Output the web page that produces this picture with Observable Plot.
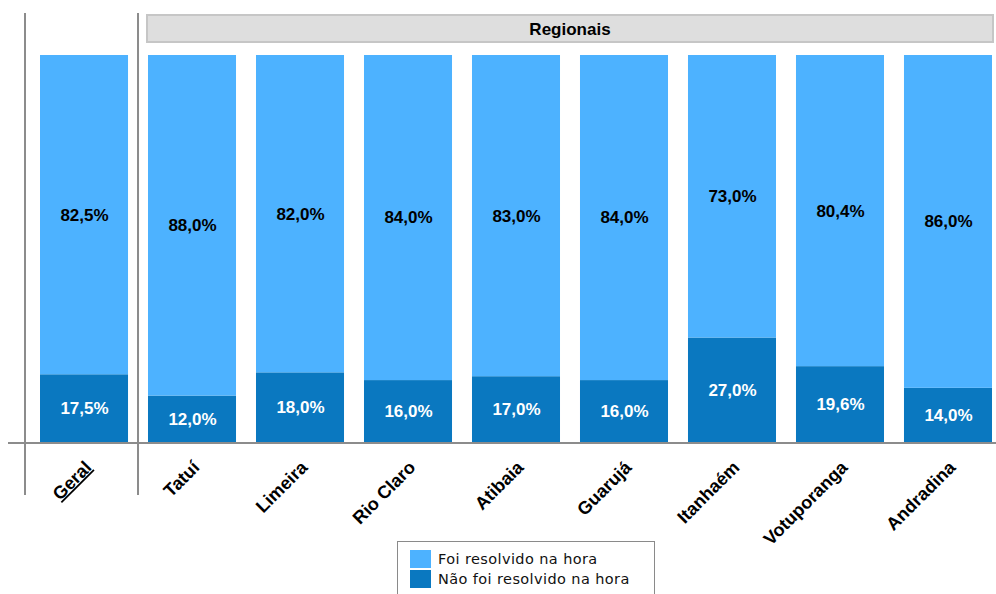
<!DOCTYPE html>
<html>
<head>
<meta charset="utf-8">
<script src="https://cdn.jsdelivr.net/npm/d3@7"></script>
<script src="https://cdn.jsdelivr.net/npm/@observablehq/plot@0.6"></script>
<style>
  html, body { margin: 0; padding: 0; background: #fff; overflow: hidden; }
  #wrap { position: relative; width: 996px; height: 594px; }
  #legend { position: absolute; left: 397px; top: 541px; width: 256px; height: 60px;
    border: 1.5px solid #8a8a8a; background: #fff; font-family: "DejaVu Sans", Verdana, sans-serif;
    font-size: 14.5px; letter-spacing: 0.4px; color: #111; }
  .item { position: absolute; left: 12px; height: 18px; display: flex; align-items: center; }
  .sw { width: 21px; height: 18px; margin-right: 7px; }
</style>
</head>
<body>
<div id="wrap">
  <div id="chart"></div>
  <div id="legend">
    <div class="item" style="top:8px"><div class="sw" style="background:#4db2ff"></div>Foi resolvido na hora</div>
    <div class="item" style="top:28px"><div class="sw" style="background:#0a78c0"></div>Não foi resolvido na hora</div>
  </div>
</div>
<script>
const categories = ["Geral", "Tatuí", "Limeira", "Rio Claro", "Atibaia", "Guarujá", "Itanhaém", "Votuporanga", "Andradina"];
const resolvido = [82.5, 88.0, 82.0, 84.0, 83.0, 84.0, 73.0, 80.4, 86.0];
const naoResolvido = [17.5, 12.0, 18.0, 16.0, 17.0, 16.0, 27.0, 19.6, 14.0];
const seriesNames = ["Foi resolvido na hora", "Não foi resolvido na hora"];
const groupLabel = "Regionais";

const colors = {"Foi resolvido na hora": "#4db2ff", "Não foi resolvido na hora": "#0a78c0"};
const fmt = v => v.toFixed(1).replace(".", ",") + "%";

const rows = [];
categories.forEach((c, i) => {
  const d = naoResolvido[i], r = resolvido[i];
  rows.push({cat: c, series: seriesNames[1], value: d, y1: 0, y2: d});
  rows.push({cat: c, series: seriesNames[0], value: r, y1: d, y2: d + r});
});
rows.forEach(r => r.mid = (r.y1 + r.y2) / 2);

const plot = Plot.plot({
  width: 996,
  height: 540,
  marginTop: 55,
  marginBottom: 98,
  marginLeft: 40,
  marginRight: 4,
  style: {fontFamily: "'Liberation Sans', Arial, sans-serif", background: "#fff", overflow: "visible"},
  x: {type: "band", domain: categories, paddingInner: 0.185, paddingOuter: 0, round: false, label: null},
  y: {domain: [0, 100], axis: null},
  color: {domain: seriesNames, range: [colors[seriesNames[0]], colors[seriesNames[1]]]},
  marks: [
    Plot.barY(rows, {x: "cat", y1: "y1", y2: "y2", fill: "series"}),
    Plot.text(rows, {x: "cat", y: "mid", text: d => fmt(d.value),
      fill: d => d.series === seriesNames[0] ? "#000" : "#fff",
      fontSize: 17, fontWeight: "bold"}),
    Plot.axisX({tickRotate: -45, tickSize: 0, tickPadding: 22, dx: 4, fontSize: 18, fontWeight: "bold", fill: "#000"})
  ]
});
document.getElementById("chart").appendChild(plot);

// decorations derived from scales
const svg = d3.select(plot);
const xs = plot.scale("x");
const bw = xs.bandwidth;
const yTop = 13, yBot = 495, base = plot.scale("y").apply(0);
const xStart = xs.apply(categories[0]);
const xSep = (xs.apply(categories[0]) + bw + xs.apply(categories[1])) / 2;
const deco = svg.append("g");
deco.append("line").attr("x1", 8).attr("x2", 996).attr("y1", base + 1).attr("y2", base + 1)
  .attr("stroke", "#8c8c8c").attr("stroke-width", 2);
[xStart - 15, xSep].forEach(x => {
  deco.append("line").attr("x1", x).attr("x2", x).attr("y1", yTop).attr("y2", yBot)
    .attr("stroke", "#8c8c8c").attr("stroke-width", 2);
});
const bx1 = xs.apply(categories[1]) - 1;
const bx2 = xs.apply(categories[categories.length - 1]) + bw + 1;
deco.append("rect").attr("x", bx1).attr("y", 15).attr("width", bx2 - bx1).attr("height", 27)
  .attr("fill", "#dedede").attr("stroke", "#c6c6c6").attr("stroke-width", 2);
deco.append("text").attr("x", (bx1 + bx2) / 2).attr("y", 29).attr("dy", "0.35em")
  .attr("text-anchor", "middle").attr("font-weight", "bold").attr("font-size", 17)
  .attr("fill", "#000").text(groupLabel);

// underline "Geral"
svg.selectAll("[aria-label='x-axis tick label'] text").each(function() {
  if (this.textContent === categories[0]) d3.select(this).attr("text-decoration", "underline");
});
</script>
</body>
</html>
